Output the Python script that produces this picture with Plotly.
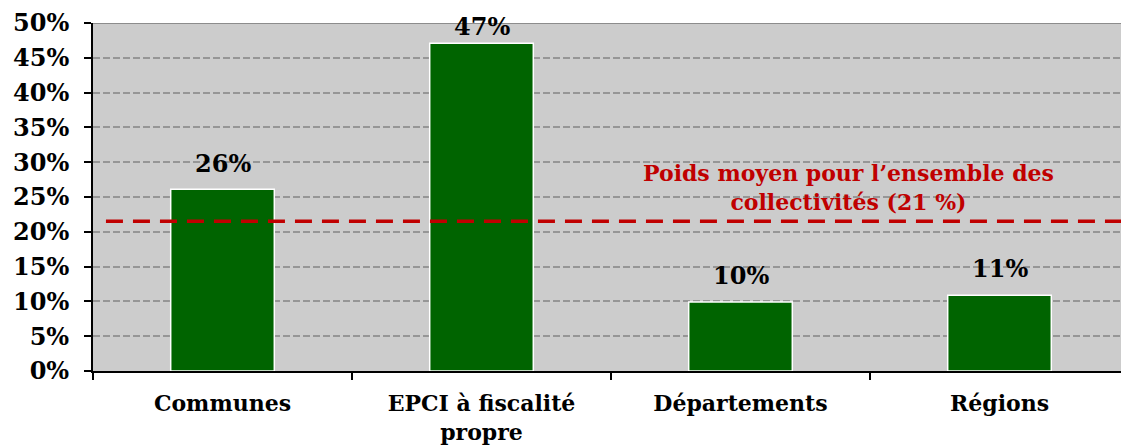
import plotly.graph_objects as go

categories = ["Communes", "EPCI à fiscalité<br>propre", "Départements", "Régions"]
values = [26.1, 47.1, 9.9, 10.9]
value_labels = ["26%", "47%", "10%", "11%"]
average_value = 21.5
average_label = "Poids moyen pour l’ensemble des<br>collectivités (21 %)"
y_ticks = [0, 5, 10, 15, 20, 25, 30, 35, 40, 45, 50]
y_tick_labels = [f"{t}%" for t in y_ticks]

FONT = "DejaVu Serif"

fig = go.Figure()
fig.add_trace(go.Bar(
    x=categories, y=values,
    marker=dict(color="#006400", line=dict(color="white", width=1.5)),
    hoverinfo="skip",
))

# value labels above bars (clamped below the top of the plot like the original)
for c, v, t in zip(categories, values, value_labels):
    fig.add_annotation(x=c, y=min(v + 1.4, 47.1), text=t, showarrow=False,
                       xanchor="center", yanchor="bottom",
                       font=dict(family=FONT, size=24, color="black", weight="bold"))

# average line
fig.add_shape(type="line", xref="paper", yref="y", x0=0.0125, x1=1.0,
              y0=average_value, y1=average_value,
              line=dict(color="#C00000", width=3.5, dash="17px,10px"))
fig.add_annotation(xref="paper", yref="y", x=0.729, y=average_value + 4.9, text=average_label,
                   showarrow=False, align="center", xanchor="center", yanchor="middle",
                   font=dict(family=FONT, size=22, color="#C00000", weight="bold"))

# top border line
fig.add_shape(type="line", xref="paper", yref="y", x0=0, x1=1, y0=50, y1=50,
              line=dict(color="#8c8c8c", width=2), layer="below")

# the page body adds an 8px offset, so the figure is sized/margined to compensate
fig.update_layout(
    width=1121, height=440,
    margin=dict(l=85, r=0, t=15, b=77),
    paper_bgcolor="white", plot_bgcolor="#CCCCCC",
    bargap=0.6, showlegend=False,
    font=dict(family=FONT, color="black"),
)
fig.update_xaxes(
    range=[-0.5, 3.5], tickson="boundaries", ticks="outside", ticklen=7, tickwidth=1.5, tickcolor="black",
    showline=True, linecolor="black", linewidth=2, showgrid=False, automargin=False,
    tickfont=dict(family=FONT, size=22, color="black", weight="bold"), ticklabelstandoff=12,
)
fig.update_yaxes(
    range=[0, 50], tickvals=y_ticks, ticktext=y_tick_labels,
    ticks="outside", ticklen=7, tickwidth=1.5, tickcolor="black",
    showline=True, linecolor="black", linewidth=2, automargin=False,
    showgrid=True, gridcolor="#969696", gridwidth=2, griddash="7px,3px",
    zeroline=False,
    tickfont=dict(family=FONT, size=24, color="black", weight="bold"), ticklabelstandoff=10,
)

fig.write_html("out.html")
